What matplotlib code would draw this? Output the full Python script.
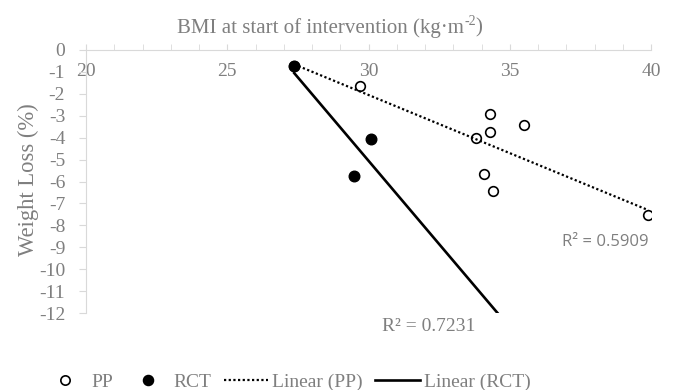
import matplotlib.pyplot as plt
import numpy as np
from matplotlib.lines import Line2D

# BMI at start (x) vs weight loss % (y)
pp_bmi = [27.37, 29.70, 34.30, 35.49, 33.79, 34.30, 34.09, 34.39, 39.90]
pp_loss = [-0.73, -1.64, -2.94, -3.44, -4.03, -3.74, -5.65, -6.45, -7.53]
rct_bmi = [27.37, 30.09, 29.49]
rct_loss = [-0.73, -4.05, -5.74]
r2_pp = "R² = 0.5909"
r2_rct = "R² = 0.7231"

GREY = '#7f7f7f'
AXIS = '#d9d9d9'
SERIF = 'Liberation Serif'

plt.rcParams['font.family'] = SERIF
plt.rcParams['axes.unicode_minus'] = False

fig = plt.figure(figsize=(6.76, 3.90), dpi=100)
ax = fig.add_axes([86 / 676, 1 - 313 / 390, (651 - 86) / 676, (313 - 50) / 390])

ax.scatter(pp_bmi, pp_loss, s=48, facecolors='white', edgecolors='black',
           linewidths=1.2, zorder=3)
ax.scatter(rct_bmi, rct_loss, s=58, color='black', zorder=3)

# linear trendlines
k, b = np.polyfit(pp_bmi, pp_loss, 1)
xs = np.array([min(pp_bmi), max(pp_bmi)])
ax.plot(xs, k * xs + b, color='black', lw=1.6, linestyle=(0, (1, 1.1)), zorder=4)

k, b = np.polyfit(rct_bmi, rct_loss, 1)
xs = np.array([min(rct_bmi), 40])
ax.plot(xs, k * xs + b, color='black', lw=1.9, zorder=4)

ax.set_xlim(20, 40)
ax.set_ylim(-12, 0)

for s in ['top', 'right']:
    ax.spines[s].set_visible(False)
ax.spines['bottom'].set_position(('data', 0))
ax.spines['bottom'].set_color(AXIS)
ax.spines['left'].set_color(AXIS)

ax.set_xticks(range(20, 41, 5))
ax.set_xticks(range(20, 41), minor=True)
ax.set_yticks(range(-12, 1))
ax.tick_params(axis='x', which='both', direction='in', length=4, color=AXIS,
               labelsize=14, labelcolor=GREY, pad=9)
ax.tick_params(axis='y', direction='out', length=5, color=AXIS,
               labelsize=14, labelcolor=GREY, pad=10)

# title in pieces so the exponent keeps a plain hyphen
renderer = fig.canvas.get_renderer()
ty = 0.928
parts = [('BMI at start of intervention (kg·m', 15, 0),
         ('-2', 10, 0.018),
         (')', 15, 0)]
objs = []
x = 0
for txt, size, dy in parts:
    t = fig.text(x, ty + dy, txt, ha='left', va='center', fontsize=size, color=GREY)
    w = t.get_window_extent(renderer).width / fig.bbox.width
    objs.append((t, x, w))
    x += w
start = 330 / 676 - x / 2
for t, x0, w in objs:
    t.set_x(start + x0)

fig.text(28 / 676, 1 - 180 / 390, 'Weight Loss (%)', rotation=90, ha='center',
         va='center', fontsize=16.3, color=GREY)

ax.text(39.9, -8.76, r2_pp, ha='right', va='center', fontsize=12, color=GREY,
        family='Open Sans')
ax.text(30.48, -12.6, r2_rct, ha='left', va='center', fontsize=14, color=GREY,
        clip_on=False)

handles = [
    Line2D([], [], ls='none', marker='o', mfc='white', mec='black', mew=1.2, ms=6.7),
    Line2D([], [], ls='none', marker='o', color='black', ms=7.3),
    Line2D([], [], color='black', lw=1.6, ls=(0, (1, 1.1))),
    Line2D([], [], color='black', lw=1.9),
]
labels = ['PP', 'RCT', 'Linear (PP)', 'Linear (RCT)']
fig.legend(handles, labels, loc='center', bbox_to_anchor=(0.424, 0.02), ncol=4,
           frameon=False, fontsize=14, labelcolor=GREY, handlelength=2.3,
           handletextpad=0.2, columnspacing=0.62, borderpad=0)

fig.savefig('out.png', dpi=100)
